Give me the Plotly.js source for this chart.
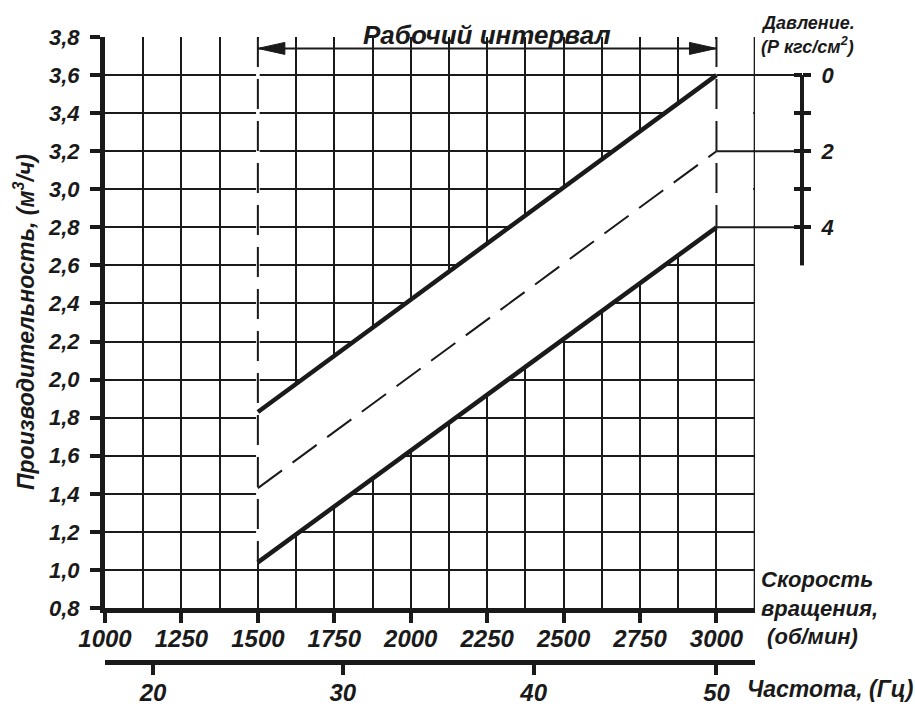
<!DOCTYPE html>
<html><head><meta charset="utf-8">
<script src="https://cdn.plot.ly/plotly-3.0.1.min.js"></script>
<style>html,body{margin:0;padding:0;background:#fff}</style>
</head><body><div id="chart" style="width:915px;height:707px"></div>
<script>
// ---- data ----
const rpm = [1500, 3000];                 // working interval, об/мин
const flowP0 = [1.83, 3.6];               // P = 0 кгс/см²
const flowP2 = [1.43, 3.2];               // P = 2 кгс/см²
const flowP4 = [1.04, 2.8];               // P = 4 кгс/см²
const pressureVals = [0, 2, 4];
const pressureTickVals = [0, 1, 2, 3, 4];
const pressureTickText = ['0', '', '2', '', '4'];
const freqLabels = ['20', '30', '40', '50'];
const freqAtRpm = [1157, 1778, 2402, 3000];
const titleText = 'Рабочий интервал';

// ---- layout geometry ----
const W = 915, H = 707, L = 105, R = 10, T = 37, B = 45;
const PW = W - L - R, PH = H - T - B;
const X_RANGE = [1000, 3126], Y_RANGE = [0.8, 3.8];
const GRID_RIGHT = 3125;
const X_DOM = [0, 650 / PW];
const Y_DOM = [54 / PH, 1];
const INK = '#1a1a1a';
const FAM = 'Liberation Sans, Arial, sans-serif';
const f = (size) => ({family: FAM, size: size, color: INK, weight: 'bold', style: 'italic'});

const xPaper = v => X_DOM[1] * (v - X_RANGE[0]) / (X_RANGE[1] - X_RANGE[0]);
const yPaper = v => Y_DOM[0] + (1 - Y_DOM[0]) * (v - Y_RANGE[0]) / (Y_RANGE[1] - Y_RANGE[0]);
const pxX = px => (px - L) / PW;
const pxY = py => (H - B - py) / PH;
const rpmPerPx = (X_RANGE[1] - X_RANGE[0]) / (X_DOM[1] * PW);

// pressure scale aligned with the 3000 rpm end points
const pMax = pressureVals[pressureVals.length - 1];
const pAtFlow = q => (flowP0[1] - q) / (flowP0[1] - flowP4[1]) * pMax;
const P_RANGE = [pAtFlow(Y_RANGE[0]), pAtFlow(Y_RANGE[1])];
const P_AXIS_LEN = 5;
const P_AXIS_POS = pxX(802);

const ARROW_Y = 3.74;

const traces = [
  {x: [rpm[0], rpm[0]], y: [Y_RANGE[1], flowP4[0]], mode: 'lines',
   line: {color: INK, width: 2, dash: '30px,12px'}, hoverinfo: 'skip', showlegend: false},
  {x: [rpm[1], rpm[1]], y: [Y_RANGE[1], flowP4[1]], mode: 'lines',
   line: {color: INK, width: 2, dash: '30px,12px'}, hoverinfo: 'skip', showlegend: false},
  {x: rpm, y: flowP0, mode: 'lines', line: {color: INK, width: 4.5}, name: 'P=0', showlegend: false},
  {x: rpm, y: flowP2, mode: 'lines', line: {color: INK, width: 2, dash: '30px,13px'}, name: 'P=2', showlegend: false},
  {x: rpm, y: flowP4, mode: 'lines', line: {color: INK, width: 4.5}, name: 'P=4', showlegend: false},
  {x: freqAtRpm, y: freqAtRpm.map(() => Y_RANGE[0]), xaxis: 'x2', yaxis: 'y', mode: 'none', hoverinfo: 'skip', showlegend: false},
  {x: pressureVals.map(() => rpm[1]), y: pressureVals, xaxis: 'x', yaxis: 'y2', mode: 'none', hoverinfo: 'skip', showlegend: false},
  {x: pressureVals.map(() => rpm[1]), y: pressureVals, xaxis: 'x', yaxis: 'y3', mode: 'none', hoverinfo: 'skip', showlegend: false}
];

const shapes = [];
// white band between the limit lines (grid hidden there)
const xr = GRID_RIGHT - 5;
shapes.push({type: 'path', xref: 'x', yref: 'y', layer: 'between',
  path: `M${rpm[0]},${flowP4[0]} L${rpm[0]},${flowP0[0]} L${rpm[1]},${flowP0[1]} L${xr},${flowP0[1]} L${xr},${flowP4[1]} L${rpm[1]},${flowP4[1]} Z`,
  fillcolor: '#ffffff', line: {width: 0}});
// right border of the grid kept visible
shapes.push({type: 'line', xref: 'x', yref: 'y', layer: 'between', x0: GRID_RIGHT, x1: GRID_RIGHT,
  y0: Y_RANGE[0], y1: Y_RANGE[1], line: {color: INK, width: 2}});
// hide solid grid under the dashed boundaries
const hw = 1.8 * rpmPerPx;
shapes.push({type: 'rect', xref: 'x', yref: 'y', layer: 'between', x0: rpm[0] - hw, x1: rpm[0] + hw,
  y0: flowP4[0], y1: Y_RANGE[1] - 0.012, fillcolor: '#ffffff', line: {width: 0}});
shapes.push({type: 'rect', xref: 'x', yref: 'y', layer: 'between', x0: rpm[1] - hw, x1: rpm[1] + hw,
  y0: flowP4[1], y1: Y_RANGE[1] - 0.012, fillcolor: '#ffffff', line: {width: 0}});
// gap in top grid for the title
const mid = (rpm[0] + rpm[1]) / 2;
shapes.push({type: 'rect', xref: 'x', yref: 'paper', layer: 'between', x0: mid - 134 * rpmPerPx, x1: mid + 132 * rpmPerPx,
  y0: yPaper(3.77), y1: 1.01, fillcolor: '#ffffff', line: {width: 0}});
// dimension arrow of the working interval
shapes.push({type: 'line', xref: 'x', yref: 'y', x0: rpm[0], x1: rpm[1], y0: ARROW_Y, y1: ARROW_Y, line: {color: INK, width: 2}});
shapes.push({type: 'path', xref: 'x', yref: 'y', xsizemode: 'pixel', ysizemode: 'pixel', xanchor: rpm[0], yanchor: ARROW_Y,
  path: 'M0,0 L27,-6 L27,6 Z', fillcolor: INK, line: {color: INK, width: 1}});
shapes.push({type: 'path', xref: 'x', yref: 'y', xsizemode: 'pixel', ysizemode: 'pixel', xanchor: rpm[1], yanchor: ARROW_Y,
  path: 'M0,0 L-27,-6 L-27,6 Z', fillcolor: INK, line: {color: INK, width: 1}});
// connectors from line ends to the pressure scale
[flowP0, flowP2, flowP4].forEach(s => {
  shapes.push({type: 'line', xref: 'paper', yref: 'y', x0: xPaper(rpm[1]), x1: P_AXIS_POS, y0: s[1], y1: s[1],
    line: {color: INK, width: 2}});
});
// pressure scale spine
shapes.push({type: 'line', xref: 'paper', yref: 'y2', x0: P_AXIS_POS, x1: P_AXIS_POS, y0: 0, y1: P_AXIS_LEN,
  line: {color: INK, width: 4}});

const annotations = [
  {text: titleText, xref: 'x', x: mid, yref: 'paper', y: pxY(35), xanchor: 'center', yanchor: 'middle', showarrow: false, font: f(26)},
  {text: 'Производительность, (м<sup>3</sup>/ч)', textangle: -90, xref: 'paper', x: pxX(24), yref: 'paper', y: pxY(322),
   xanchor: 'center', yanchor: 'middle', showarrow: false, font: f(23)},
  {text: 'Давление.', xref: 'paper', x: pxX(759), yref: 'paper', y: pxY(23), xanchor: 'left', yanchor: 'middle', showarrow: false, font: f(18)},
  {text: '(Р кгс/см<sup>2</sup>)', xref: 'paper', x: pxX(759), yref: 'paper', y: pxY(46), xanchor: 'left', yanchor: 'middle', showarrow: false, font: f(18)},
  {text: 'Скорость<br>вращения,<br> (об/мин)', xref: 'paper', x: pxX(759), yref: 'paper', y: pxY(608), xanchor: 'left', yanchor: 'middle', align: 'left', showarrow: false, font: f(22)},
  {text: 'Частота, (Гц)', xref: 'paper', x: pxX(745), yref: 'paper', y: pxY(689), xanchor: 'left', yanchor: 'middle', showarrow: false, font: f(23)}
];

const layout = {
  width: W, height: H, margin: {l: L, r: R, t: T, b: B},
  paper_bgcolor: '#ffffff', plot_bgcolor: '#ffffff',
  separators: ', ', showlegend: false, hovermode: false,
  font: {family: FAM, color: INK},
  xaxis: {domain: X_DOM, range: X_RANGE, tickmode: 'linear', tick0: 1000, dtick: 250,
    showgrid: true, gridcolor: INK, gridwidth: 2,
    minor: {tick0: 1000, dtick: 125, showgrid: true, gridcolor: INK, gridwidth: 2, ticks: ''},
    showline: true, linewidth: 5, linecolor: INK, ticks: 'outside', ticklen: 10, tickwidth: 4, tickcolor: INK,
    tickfont: f(24), zeroline: false, ticklabelstandoff: -5},
  yaxis: {domain: Y_DOM, range: Y_RANGE, tickmode: 'linear', tick0: 0.8, dtick: 0.2, tickformat: '.1f',
    showgrid: true, gridcolor: INK, gridwidth: 2,
    showline: true, linewidth: 5, linecolor: INK, ticks: 'outside', ticklen: 10, tickwidth: 4, tickcolor: INK,
    tickfont: f(22), zeroline: false, ticklabelstandoff: 6},
  xaxis2: {overlaying: 'x', anchor: 'free', position: 0, range: X_RANGE, side: 'bottom',
    tickmode: 'array', tickvals: freqAtRpm, ticktext: freqLabels,
    showline: true, linewidth: 5, linecolor: INK, ticks: 'outside', ticklen: 10, tickwidth: 4, tickcolor: INK,
    showgrid: false, zeroline: false, tickfont: f(24), ticklabelstandoff: -3},
  yaxis2: {overlaying: 'y', range: P_RANGE, anchor: 'free', position: P_AXIS_POS, side: 'right',
    tickmode: 'array', tickvals: pressureTickVals, ticktext: pressureTickText,
    showline: false, ticks: 'outside', ticklen: 8, tickwidth: 4, tickcolor: INK,
    showgrid: false, zeroline: false, tickfont: f(22), ticklabelstandoff: 6},
  yaxis3: {overlaying: 'y', range: P_RANGE, anchor: 'free', position: P_AXIS_POS, side: 'left',
    tickmode: 'array', tickvals: pressureTickVals, showticklabels: false,
    showline: false, ticks: 'outside', ticklen: 8, tickwidth: 4, tickcolor: INK,
    showgrid: false, zeroline: false},
  shapes: shapes,
  annotations: annotations
};

Plotly.newPlot('chart', traces, layout, {displayModeBar: false, staticPlot: true});
</script></body></html>
